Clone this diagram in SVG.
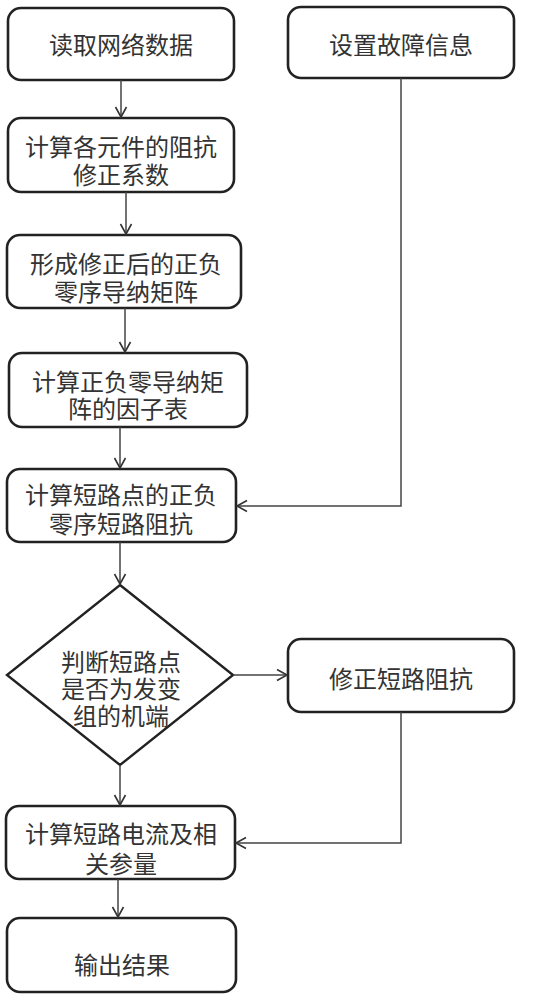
<svg xmlns="http://www.w3.org/2000/svg" width="544" height="1000" viewBox="0 0 544 1000">
<defs>
<marker id="arr" markerUnits="userSpaceOnUse" markerWidth="14" markerHeight="14" viewBox="0 0 14 14" refX="12" refY="7" orient="auto">
<path d="M2,1.5 L12,7 L2,12.5" fill="none" stroke="#333" stroke-width="1.6"/>
</marker>
</defs>
<style>
.box{fill:#fff;stroke:#222;stroke-width:2.6}
.t{font-family:"Noto Sans CJK SC","Noto Sans CJK JP",sans-serif;font-size:24px;fill:#333;text-anchor:middle;dominant-baseline:central}
.c{fill:none;stroke:#444;stroke-width:1.5}
</style>
<rect width="544" height="1000" fill="#fff"/>
<g id="n1"><rect class="box" x="8" y="8" width="226" height="72" rx="13"/><text class="t" x="121" y="43">读取网络数据</text></g>
<g id="n_fault"><rect class="box" x="288" y="7" width="226" height="71" rx="13"/><text class="t" x="401" y="43">设置故障信息</text></g>
<g id="n2"><rect class="box" x="8" y="118" width="226" height="74" rx="13"/><text class="t" x="121" y="145">计算各元件的阻抗</text><text class="t" x="121" y="173">修正系数</text></g>
<g id="n3"><rect class="box" x="7" y="235" width="234" height="73" rx="13"/><text class="t" x="126" y="262">形成修正后的正负</text><text class="t" x="126" y="290">零序导纳矩阵</text></g>
<g id="n4"><rect class="box" x="9" y="353" width="238" height="74" rx="13"/><text class="t" x="128" y="380">计算正负零导纳矩</text><text class="t" x="128" y="407">阵的因子表</text></g>
<g id="n5"><rect class="box" x="7" y="469" width="229" height="73" rx="13"/><text class="t" x="121" y="493">计算短路点的正负</text><text class="t" x="121" y="522">零序短路阻抗</text></g>
<g id="n_dec"><polygon points="120,585 233,675 120,765 7,675" fill="#fff" stroke="#222" stroke-width="2.4"/><text class="t" x="121" y="660">判断短路点</text><text class="t" x="121" y="687">是否为发变</text><text class="t" x="121" y="714">组的机端</text></g>
<g id="n_fix"><rect class="box" x="288" y="639" width="226" height="73" rx="13"/><text class="t" x="401" y="677">修正短路阻抗</text></g>
<g id="n6"><rect class="box" x="6" y="806" width="229" height="73" rx="13"/><text class="t" x="121" y="832">计算短路电流及相</text><text class="t" x="121" y="862">关参量</text></g>
<g id="n7"><rect class="box" x="7" y="918" width="229" height="74" rx="13"/><text class="t" x="122" y="963">输出结果</text></g>
<g id="connectors">
<line class="c" x1="121" y1="80" x2="121" y2="117" marker-end="url(#arr)"/>
<line class="c" x1="126" y1="192" x2="126" y2="234" marker-end="url(#arr)"/>
<line class="c" x1="125" y1="308" x2="125" y2="352" marker-end="url(#arr)"/>
<line class="c" x1="120" y1="427" x2="120" y2="468" marker-end="url(#arr)"/>
<polyline class="c" points="401,78 401,506 237,506" marker-end="url(#arr)"/>
<line class="c" x1="120" y1="542" x2="120" y2="584" marker-end="url(#arr)"/>
<line class="c" x1="233" y1="675" x2="287" y2="675" marker-end="url(#arr)"/>
<line class="c" x1="120" y1="765" x2="120" y2="805" marker-end="url(#arr)"/>
<polyline class="c" points="401,712 401,843 236,843" marker-end="url(#arr)"/>
<line class="c" x1="118" y1="879" x2="118" y2="917" marker-end="url(#arr)"/>
</g>
</svg>
